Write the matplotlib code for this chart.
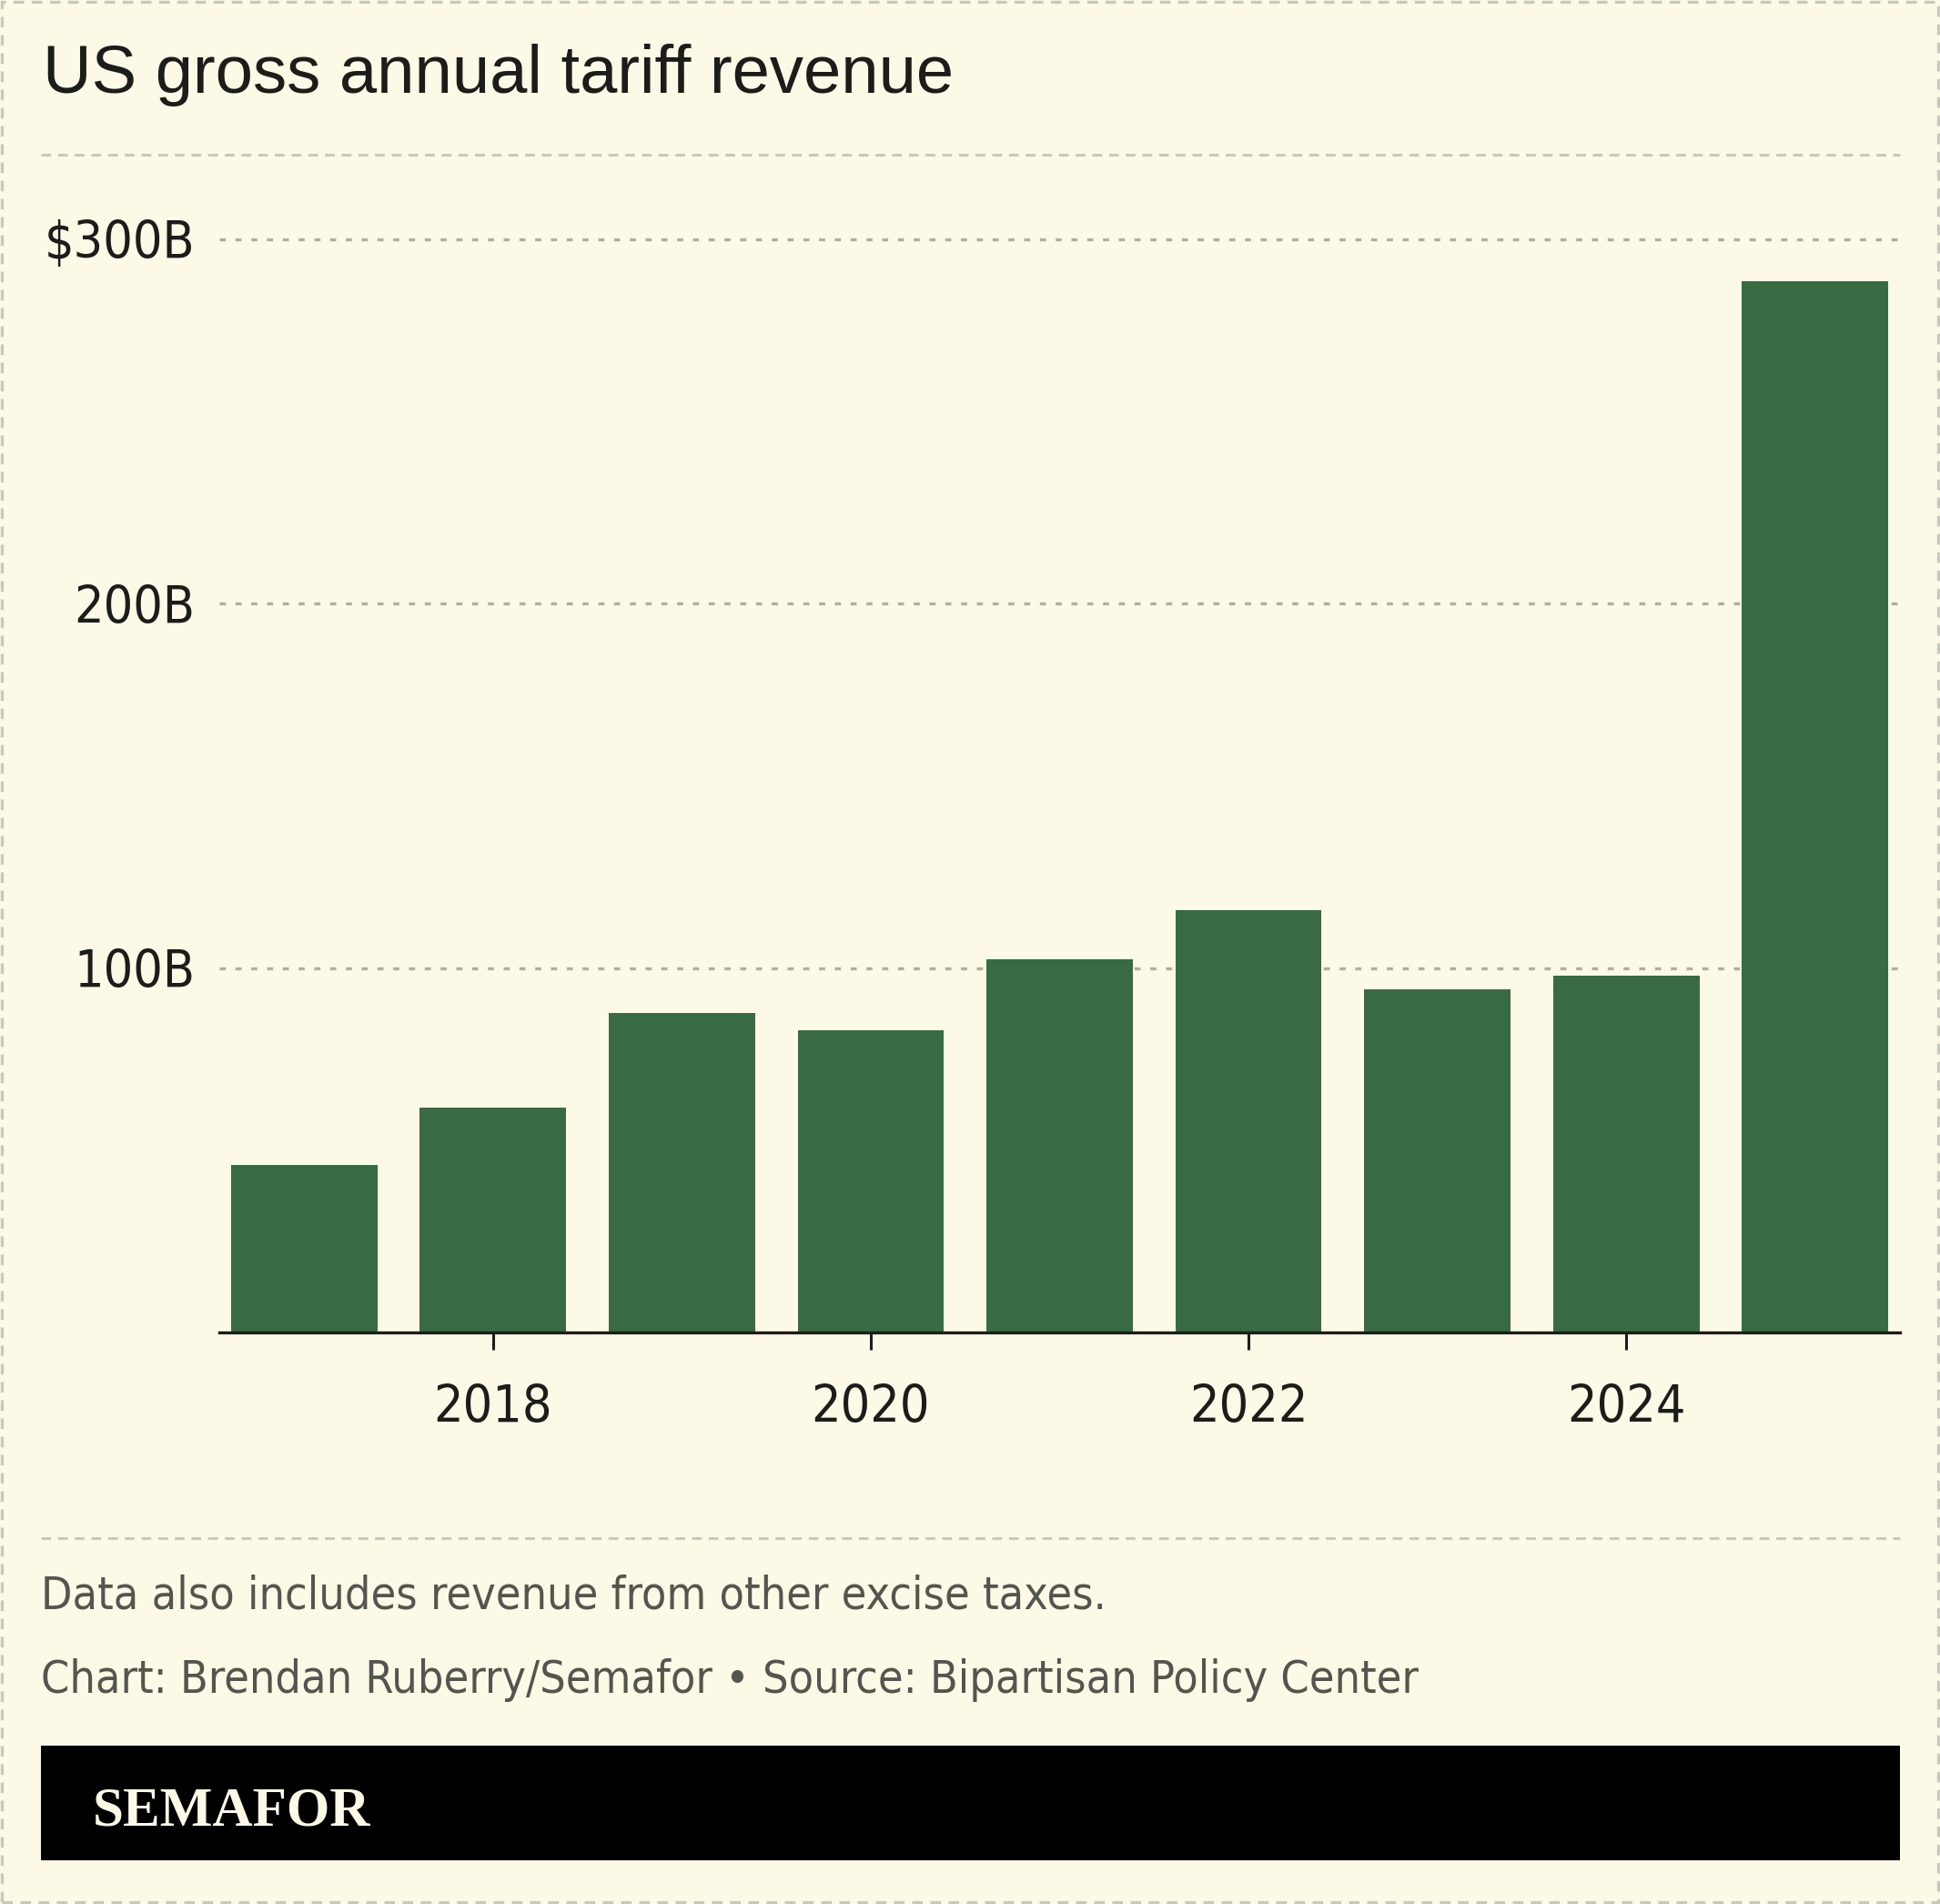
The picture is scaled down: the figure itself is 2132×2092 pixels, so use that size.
import matplotlib
matplotlib.use("Agg")
import matplotlib.pyplot as plt
from matplotlib import font_manager as fm
from matplotlib.patches import Rectangle
from matplotlib.lines import Line2D

# data (billions of dollars)
years = [2017, 2018, 2019, 2020, 2021, 2022, 2023, 2024, 2025]
revenue = [46.0, 61.6, 87.8, 83.0, 102.4, 116.0, 94.2, 98.0, 288.4]
x_ticks = [2018, 2020, 2022, 2024]
y_ticks = [100, 200, 300]
y_tick_labels = ["100B", "200B", "$300B"]

title = "US gross annual tariff revenue"
note = "Data also includes revenue from other excise taxes."
credit = "Chart: Brendan Ruberry/Semafor \u2022 Source: Bipartisan Policy Center"

BG = "#fcfae6"
BAR = "#386b42"
GRID = "#b0af9f"
SEP = "#c9c8bd"
INK = "#1c1c1a"
GREY = "#55554f"

# condensed sans for labels: DejaVu Sans Condensed is usually around
names = {f.name for f in fm.fontManager.ttflist}
if "Liberation Sans Narrow" in names:
    NARROW = fm.FontProperties(family="Liberation Sans Narrow")
else:
    NARROW = fm.FontProperties(family="DejaVu Sans", stretch="condensed")


def narrow(size):
    fp = NARROW.copy()
    fp.set_size(size)
    return fp


W, H = 2132, 2092
fig = plt.figure(figsize=(W / 100, H / 100), dpi=100, facecolor=BG)


def fy(px):
    return 1 - px / H


def fx(px):
    return px / W


# outer dashed border
fig.patches.append(Rectangle((fx(2), fy(H - 2)), fx(W - 4), (H - 4) / H,
                             transform=fig.transFigure, fill=False,
                             edgecolor=SEP, lw=2.4, linestyle=(0, (3.5, 2.5))))

fig.text(fx(47), fy(102), title, fontsize=53.5, color=INK,
         family="Liberation Sans", va="baseline", ha="left")

# separators
for ypx in (170, 1690):
    fig.lines.append(Line2D([fx(45), fx(2088)], [fy(ypx), fy(ypx)],
                            transform=fig.transFigure, color=SEP, lw=2.2,
                            linestyle=(0, (3.5, 2.5))))

ax = fig.add_axes([fx(241), fy(1464), fx(2088) - fx(241), fy(263) - fy(1464)])
ax.set_facecolor(BG)
ax.bar(years, revenue, width=0.775, color=BAR, zorder=2)
ax.set_xlim(2016.55, 2025.45)
ax.set_ylim(0, 300)

for v in y_ticks:
    ax.axhline(v, color=GRID, lw=2.4, linestyle=(0, (2.0, 3.2)),
               zorder=1, clip_on=False)

for s in ("top", "right", "left"):
    ax.spines[s].set_visible(False)
ax.spines["bottom"].set_color(INK)
ax.spines["bottom"].set_linewidth(2.4)
ax.spines["bottom"].set_zorder(3)

ax.set_yticks(y_ticks)
ax.set_yticklabels(y_tick_labels, fontproperties=narrow(41), color=INK)
ax.tick_params(axis="y", length=0, pad=19)

ax.set_xticks(x_ticks)
ax.set_xticklabels([str(t) for t in x_ticks], fontproperties=narrow(41),
                   color=INK)
ax.tick_params(axis="x", length=14, width=2.2, color=INK, pad=26)

fig.text(fx(45), fy(1768), note, fontproperties=narrow(36), color=GREY,
         va="baseline")
fig.text(fx(45), fy(1860), credit, fontproperties=narrow(36), color=GREY,
         va="baseline")

# brand bar
fig.patches.append(Rectangle((fx(45), fy(2044)), fx(2088) - fx(45),
                             fy(1918) - fy(2044), transform=fig.transFigure,
                             facecolor="black", edgecolor="none"))
fig.text(fx(102), fy(2006), "SEMAFOR", fontsize=44, color=BG,
         family="Liberation Serif", fontweight="bold", va="baseline")

fig.savefig("out.png", dpi=100, facecolor=BG)
